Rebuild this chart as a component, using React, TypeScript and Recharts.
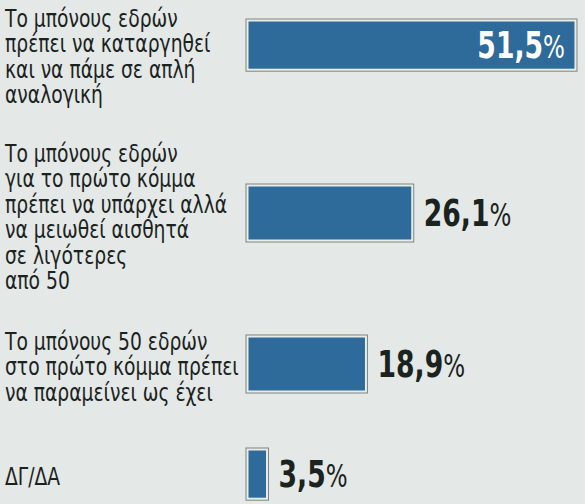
import React from "react";
import { BarChart, Bar, XAxis, YAxis, LabelList } from "recharts";

const categories: string[][] = [
  ["Το μπόνους εδρών", "πρέπει να καταργηθεί", "και να πάμε σε απλή", "αναλογική"],
  [
    "Το μπόνους εδρών",
    "για το πρώτο κόμμα",
    "πρέπει να υπάρχει αλλά",
    "να μειωθεί αισθητά",
    "σε λιγότερες",
    "από 50",
  ],
  ["Το μπόνους 50 εδρών", "στο πρώτο κόμμα πρέπει", "να παραμείνει ως έχει"],
  ["ΔΓ/ΔΑ"],
];
const values: number[] = [51.5, 26.1, 18.9, 3.5];

// layout per row (top, height, plot margins, label shift)
const rows = [
  { top: 0, height: 125, mt: 16, mb: 51, dy: 20 },
  { top: 125, height: 180, mt: 58, mb: 63, dy: 13 },
  { top: 305, height: 125, mt: 29, mb: 36, dy: 11.5 },
  { top: 430, height: 74, mt: 15, mb: 1, dy: 11 },
];

const W = 585;
const AXIS_W = 246;
const LINE_H = 25.5;
const TEXT_FONT = '"DejaVu Sans Condensed", "DejaVu Sans", sans-serif';
const LABEL_SIZE = 24.5;
const LABEL_SX = 0.85;
const VALUE_SX = 0.8;
const BG = "#e4e8e7";
const BAR = "#2e6a9a";
const INK = "#1a231d";

const BarShape = (props: any) => {
  const { x, y, width, height } = props;
  return (
    <g>
      <rect x={x} y={y} width={width} height={height} fill="#e9ede9" stroke="#7c857f" strokeWidth={1} />
      <rect x={x + 2.5} y={y + 2.5} width={Math.max(0, width - 5)} height={height - 5} fill={BAR} />
    </g>
  );
};

const makeTick = (lines: string[], dy: number) => (props: any) => {
  const { y } = props;
  const first = y - ((lines.length - 1) * LINE_H) / 2 + dy;
  return (
    <g transform={`translate(5,${first}) scale(${LABEL_SX},1)`}>
      <text x={0} y={0} fill={INK} fontFamily={TEXT_FONT} fontSize={LABEL_SIZE} textAnchor="start">
        {lines.map((l, i) => (
          <tspan key={i} x={0} y={i * LINE_H}>
            {l}
          </tspan>
        ))}
      </text>
    </g>
  );
};

const ValueLabel = (props: any) => {
  const { x, y, width, height, value } = props;
  const inside = width > 200;
  const txt = Number(value).toFixed(1).replace(".", ",");
  const cy = y + height / 2 + 13;
  const ax = inside ? x + width - 12 : x + width + 10;
  return (
    <g transform={`translate(${ax},${cy}) scale(${VALUE_SX},1)`}>
      <text
        x={0}
        y={0}
        textAnchor={inside ? "end" : "start"}
        fill={inside ? "#ffffff" : INK}
        fontFamily={TEXT_FONT}
        fontSize={37}
        fontWeight="bold"
      >
        {txt}
        <tspan fontWeight="normal" fontSize={32}>%</tspan>
      </text>
    </g>
  );
};

export default function App() {
  return (
    <div style={{ position: "fixed", left: 0, top: 0, width: W, height: 504, background: BG, overflow: "hidden" }}>
      {rows.map((r, i) => {
        const data = [{ name: categories[i].join(" "), value: values[i] }];
        return (
          <div key={i} style={{ position: "absolute", left: 0, top: r.top }}>
            <BarChart
              width={W}
              height={r.height}
              data={data}
              layout="vertical"
              margin={{ top: r.mt, bottom: r.mb, left: 0, right: 0 }}
              barCategoryGap={0}
            >
              <XAxis type="number" domain={[0, 52.75]} hide />
              <YAxis
                type="category"
                dataKey="name"
                width={AXIS_W}
                axisLine={false}
                tickLine={false}
                tick={makeTick(categories[i], r.dy)}
              />
              <Bar dataKey="value" barSize={58} shape={<BarShape />} isAnimationActive={false}>
                <LabelList dataKey="value" content={<ValueLabel />} />
              </Bar>
            </BarChart>
          </div>
        );
      })}
    </div>
  );
}
